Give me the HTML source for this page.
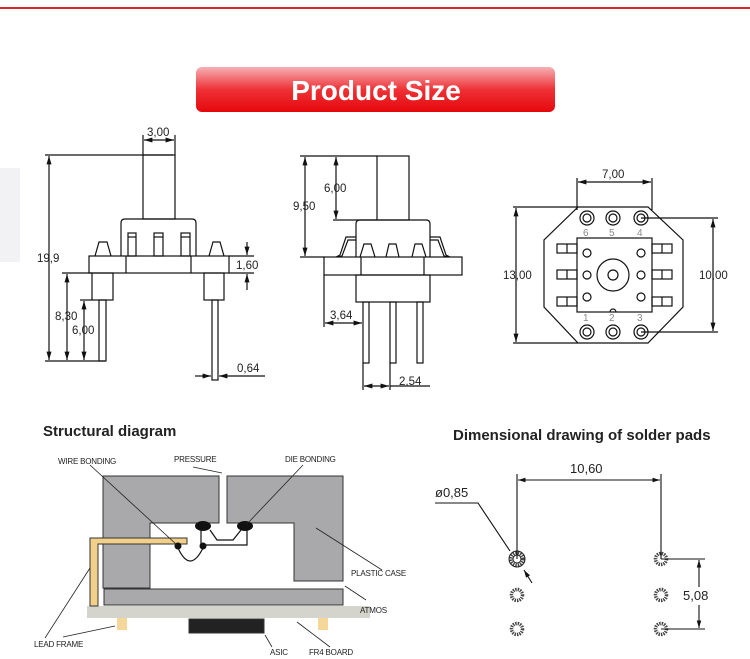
<!DOCTYPE html>
<html><head><meta charset="utf-8"><style>
html,body{margin:0;padding:0;background:#fff;width:750px;height:659px;overflow:hidden}
svg{display:block}
text{font-family:"Liberation Sans",sans-serif;fill:#222}
</style></head><body>
<svg width="750" height="659" viewBox="0 0 750 659" xmlns="http://www.w3.org/2000/svg">
<defs>
<linearGradient id="bn" x1="0" y1="0" x2="0" y2="1"><stop offset="0" stop-color="#f6b0b5"/><stop offset="0.5" stop-color="#ee3236"/><stop offset="1" stop-color="#e5070c"/></linearGradient>
<marker id="a" viewBox="0 0 10 10" refX="10" refY="5" markerWidth="7" markerHeight="7" orient="auto-start-reverse"><path d="M0,2 L10,5 L0,8 z" fill="#111"/></marker>
</defs>
<rect x="0" y="0" width="750" height="659" fill="#fff"/>
<rect x="0" y="7" width="750" height="2" fill="#d9282c"/>
<rect x="0" y="168" width="20" height="94" fill="#f2f2f4"/>
<rect x="196" y="67" width="359" height="45" rx="6" fill="url(#bn)"/>
<text x="376" y="100" text-anchor="middle" font-size="28" font-weight="bold" style="fill:#fff">Product Size</text>

<g stroke="#111" stroke-width="1.2" fill="none">
<rect x="143" y="155" width="32" height="64"/>
<path d="M121,256 L121,223 Q121,219 125,219 L192,219 Q196,219 196,223 L196,256"/>
<rect x="128" y="233" width="8" height="23"/><rect x="154" y="233" width="9" height="23"/><rect x="181" y="233" width="9" height="23"/>
<line x1="128" y1="237" x2="136" y2="237"/><line x1="154" y1="237" x2="163" y2="237"/><line x1="181" y1="237" x2="190" y2="237"/>
<path d="M95,256 L99,242 L107,242 L111,256"/><path d="M209,256 L213,242 L220,242 L224,256"/>
<rect x="89" y="256" width="140" height="17"/><line x1="126" y1="256" x2="126" y2="273"/><line x1="191" y1="256" x2="191" y2="273"/>
<rect x="92" y="273" width="21" height="27"/><rect x="99" y="300" width="7" height="61"/>
<rect x="204" y="273" width="20" height="27"/><rect x="212" y="300" width="6" height="80"/>
<line x1="45" y1="155" x2="173" y2="155"/><line x1="45" y1="361" x2="105" y2="361"/>
<line x1="49" y1="156" x2="49" y2="360" marker-start="url(#a)" marker-end="url(#a)"/>
<line x1="62" y1="273" x2="92" y2="273"/>
<line x1="67" y1="274" x2="67" y2="360" marker-start="url(#a)" marker-end="url(#a)"/>
<line x1="80" y1="300" x2="92" y2="300"/>
<line x1="84" y1="301" x2="84" y2="360" marker-start="url(#a)" marker-end="url(#a)"/>
<line x1="143" y1="135" x2="143" y2="155"/><line x1="175" y1="135" x2="175" y2="155"/>
<line x1="144" y1="140" x2="174" y2="140" marker-start="url(#a)" marker-end="url(#a)"/>
<line x1="229" y1="256" x2="254" y2="256"/><line x1="229" y1="273" x2="254" y2="273"/>
<line x1="247" y1="242" x2="247" y2="255" marker-end="url(#a)"/><line x1="247" y1="290" x2="247" y2="274" marker-end="url(#a)"/>
<line x1="195" y1="376" x2="211" y2="376" marker-end="url(#a)"/><line x1="265" y1="376" x2="219" y2="376" marker-end="url(#a)"/>
<rect x="377" y="156" width="32" height="64"/>
<path d="M356,257 L356,224 Q356,220 360,220 L426,220 Q430,220 430,224 L430,257"/>
<path d="M336,257 L340,255 L346,237 L356,237 M338,257 L342,256 L348,240 L356,240"/>
<path d="M450,257 L446,255 L440,237 L430,237 M448,257 L444,256 L438,240 L430,240"/>
<path d="M360,257 L364,244 L371,244 L375,257"/><path d="M386,257 L389,244 L396,244 L399,257"/><path d="M412,257 L415,244 L422,244 L426,257"/>
<rect x="324" y="257" width="138" height="18"/><line x1="361" y1="257" x2="361" y2="275"/><line x1="424" y1="257" x2="424" y2="275"/>
<rect x="356" y="275" width="74" height="27"/>
<rect x="363" y="302" width="6" height="61"/><rect x="390" y="302" width="6" height="61"/><rect x="417" y="302" width="6" height="61"/>
<line x1="300" y1="156" x2="377" y2="156"/><line x1="300" y1="257" x2="324" y2="257"/>
<line x1="305" y1="157" x2="305" y2="256" marker-start="url(#a)" marker-end="url(#a)"/>
<line x1="333" y1="220" x2="377" y2="220"/>
<line x1="336" y1="157" x2="336" y2="219" marker-start="url(#a)" marker-end="url(#a)"/>
<line x1="324" y1="275" x2="324" y2="327"/>
<line x1="325" y1="323" x2="362" y2="323" marker-start="url(#a)" marker-end="url(#a)"/>
<line x1="363" y1="363" x2="363" y2="390"/><line x1="390" y1="363" x2="390" y2="390"/>
<line x1="364" y1="386" x2="389" y2="386" marker-start="url(#a)" marker-end="url(#a)"/><line x1="390" y1="386" x2="430" y2="386"/>
<path d="M578,207 L648,207 L683,240 L683,307 L648,343 L578,343 L544,307 L544,240 Z"/>
<rect x="577" y="238" width="75" height="74"/>
<circle cx="587" cy="218" r="7"/><circle cx="587" cy="218" r="4"/><circle cx="613" cy="218" r="7"/><circle cx="613" cy="218" r="4"/><circle cx="641" cy="218" r="7"/><circle cx="641" cy="218" r="4"/>
<circle cx="587" cy="332" r="7"/><circle cx="587" cy="332" r="4"/><circle cx="613" cy="332" r="7"/><circle cx="613" cy="332" r="4"/><circle cx="641" cy="332" r="7"/><circle cx="641" cy="332" r="4"/>
<circle cx="587" cy="253" r="4"/><circle cx="587" cy="275" r="4"/><circle cx="587" cy="297" r="4"/>
<circle cx="641" cy="253" r="4"/><circle cx="641" cy="275" r="4"/><circle cx="641" cy="297" r="4"/>
<circle cx="613" cy="275" r="16"/><circle cx="613" cy="275" r="5"/>
<path d="M610,312 A3,3 0 0 1 616,312"/>
<rect x="557" y="244" width="20" height="9"/><line x1="567" y1="244" x2="567" y2="253"/>
<rect x="557" y="270" width="20" height="9"/><line x1="567" y1="270" x2="567" y2="279"/>
<rect x="557" y="297" width="20" height="9"/><line x1="567" y1="297" x2="567" y2="306"/>
<rect x="652" y="244" width="20" height="9"/><line x1="662" y1="244" x2="662" y2="253"/>
<rect x="652" y="270" width="20" height="9"/><line x1="662" y1="270" x2="662" y2="279"/>
<rect x="652" y="297" width="20" height="9"/><line x1="662" y1="297" x2="662" y2="306"/>
<line x1="577" y1="178" x2="577" y2="210"/><line x1="652" y1="178" x2="652" y2="210"/>
<line x1="578" y1="182" x2="651" y2="182" marker-start="url(#a)" marker-end="url(#a)"/>
<line x1="513" y1="207" x2="578" y2="207"/><line x1="513" y1="343" x2="578" y2="343"/>
<line x1="516" y1="208" x2="516" y2="342" marker-start="url(#a)" marker-end="url(#a)"/>
<line x1="641" y1="218" x2="718" y2="218"/><line x1="641" y1="332" x2="718" y2="332"/>
<line x1="713" y1="219" x2="713" y2="331" marker-start="url(#a)" marker-end="url(#a)"/>
</g>
<g font-size="11.5">
<text x="147" y="136">3,00</text><text x="37" y="262">19,9</text><text x="55" y="320">8,30</text><text x="72" y="334">6,00</text>
<text x="236" y="269">1,60</text><text x="237" y="372">0,64</text>
<text x="324" y="192">6,00</text><text x="293" y="210">9,50</text><text x="330" y="319">3,64</text><text x="399" y="385">2,54</text>
<text x="602" y="178">7,00</text><text x="503" y="279">13,00</text><text x="699" y="279">10,00</text>
</g>
<g font-size="10">
<text x="583" y="236" style="fill:#888">6</text><text x="609" y="236" style="fill:#888">5</text><text x="637" y="236" style="fill:#888">4</text>
<text x="583" y="321" style="fill:#888">1</text><text x="609" y="321" style="fill:#888">2</text><text x="637" y="321" style="fill:#888">3</text>
</g>

<text x="43" y="436" font-size="15" font-weight="bold">Structural diagram</text>
<g stroke="#333" stroke-width="1">
<path d="M103,476 L219,476 L219,523 L150,523 L150,588 L103,588 Z" fill="#a9a9ab"/>
<path d="M227,476 L343,476 L343,581 L294,581 L294,523 L227,523 Z" fill="#a9a9ab"/>
<rect x="104" y="589" width="239" height="16" fill="#a9a9ab"/>
<rect x="87" y="606" width="283" height="12" fill="#d4d4cc" stroke="none"/>
<rect x="117" y="618" width="10" height="12" fill="#f5d79a" stroke="none"/>
<rect x="318" y="618" width="10" height="12" fill="#f5d79a" stroke="none"/>
<rect x="189" y="619" width="75" height="14" fill="#222"/>
<path d="M90,606 L90,538 L187,538 L187,544 L98,544 L98,606 Z" fill="#f3d08a"/>
</g>
<g stroke="#111" stroke-width="1.2" fill="none">
<path d="M201,528 L201,545 L247,545 L247,528"/>
<path d="M210,530 L217,540 L233,540 L241,530"/>
<path d="M178,548 Q190,574 203,548"/>
</g>
<ellipse cx="203" cy="526" rx="8" ry="5" fill="#111"/><ellipse cx="245" cy="526" rx="8" ry="5" fill="#111"/>
<circle cx="178" cy="546" r="3.5" fill="#111"/><circle cx="203" cy="546" r="3.5" fill="#111"/>
<g stroke="#222" stroke-width="0.8" fill="none">
<line x1="90" y1="465" x2="177" y2="545"/>
<line x1="193" y1="467" x2="222" y2="473"/>
<line x1="303" y1="465" x2="246" y2="525"/>
<line x1="382" y1="570" x2="316" y2="528"/>
<line x1="366" y1="600" x2="345" y2="586"/>
<line x1="45" y1="638" x2="90" y2="568"/>
<line x1="63" y1="637" x2="115" y2="626"/>
<line x1="272" y1="647" x2="265" y2="635"/>
<line x1="330" y1="647" x2="297" y2="622"/>
</g>
<g font-size="8" style="letter-spacing:-0.2px">
<text x="58" y="464">WIRE BONDING</text><text x="174" y="462">PRESSURE</text><text x="285" y="462">DIE BONDING</text>
<text x="351" y="576">PLASTIC CASE</text><text x="360" y="613">ATMOS</text><text x="34" y="647">LEAD FRAME</text>
<text x="270" y="655">ASIC</text><text x="309" y="655">FR4 BOARD</text>
</g>

<text x="453" y="440" font-size="15" font-weight="bold">Dimensional drawing of solder pads</text>
<g stroke="#444" stroke-width="3.5" fill="none" stroke-dasharray="1.4 1">
<circle cx="517" cy="559" r="6"/><circle cx="517" cy="595" r="5.5"/><circle cx="517" cy="629" r="5.5"/>
<circle cx="661" cy="559" r="5.5"/><circle cx="661" cy="595" r="5.5"/><circle cx="661" cy="629" r="5.5"/>
</g>
<circle cx="517" cy="559" r="8" stroke="#222" stroke-width="1" fill="none"/>
<circle cx="517" cy="559" r="4" stroke="#222" stroke-width="1" fill="none"/>
<g stroke="#111" stroke-width="1.1" fill="none">
<line x1="517" y1="474" x2="517" y2="559"/><line x1="661" y1="474" x2="661" y2="559"/>
<line x1="518" y1="480" x2="660" y2="480" marker-start="url(#a)" marker-end="url(#a)"/>
<path d="M435,503 L478,503 L510,551"/><line x1="532" y1="583" x2="524" y2="570" marker-end="url(#a)"/>
<line x1="661" y1="559" x2="705" y2="559"/><line x1="661" y1="629" x2="705" y2="629"/>
<line x1="699" y1="560" x2="699" y2="587" marker-start="url(#a)"/><line x1="699" y1="605" x2="699" y2="628" marker-end="url(#a)"/>
</g>
<g font-size="13">
<text x="570" y="473">10,60</text><text x="435" y="497">ø0,85</text><text x="683" y="600">5,08</text>
</g>
</svg>
</body></html>
